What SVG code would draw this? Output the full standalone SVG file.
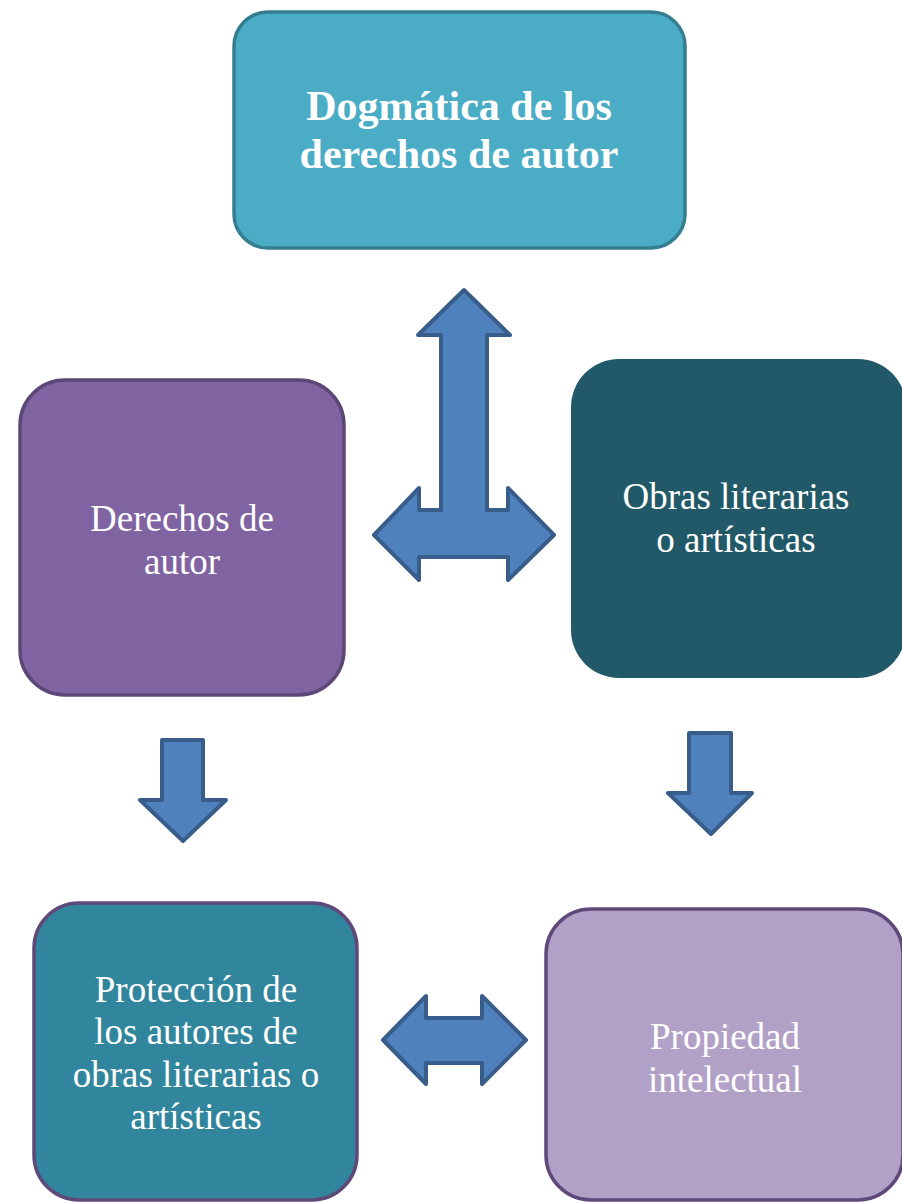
<svg xmlns="http://www.w3.org/2000/svg" width="902" height="1202" viewBox="0 0 902 1202">
<style>
.box{stroke-width:3.5}
.t{font-family:"Liberation Serif","Times New Roman",serif;fill:#ffffff;text-anchor:middle;font-size:37px}
.tb{font-weight:bold;font-size:42px}
.arr{fill:#4f81bd;stroke:#385d8a;stroke-width:4;stroke-linejoin:round}
</style>
<rect width="902" height="1202" fill="#ffffff"/>
<g id="connectors">
<polygon class="arr" points="464,290 510,335 487,335 487,510 508,510 508,488 554,535 508,580 508,557 419,557 419,580 374,535 419,488 419,510 441,510 441,335 418,335"/>
<polygon class="arr" points="162,740 203,740 203,800 226,800 183,841 140,800 162,800"/>
<polygon class="arr" points="689,733 731,733 731,793 752,793 711,834 668,793 689,793"/>
<polygon class="arr" points="383,1040 426,996 426,1018 482,1018 482,996 526,1040 482,1084 482,1063 426,1063 426,1084"/>
</g>
<g id="node-dogmatica">
<rect class="box" x="234" y="12" width="451" height="236" rx="34" fill="#4bacc6" stroke="#357d91"/>
<text class="t tb" x="459" y="120">Dogmática de los</text>
<text class="t tb" x="459" y="168">derechos de autor</text>
</g>
<g id="node-derechos">
<rect class="box" x="20" y="380" width="324" height="315" rx="45" fill="#8064a2" stroke="#5c4776"/>
<text class="t" x="182" y="531">Derechos de</text>
<text class="t" x="182" y="574">autor</text>
</g>
<g id="node-obras">
<rect x="571" y="359" width="335" height="319" rx="48" fill="#215968"/>
<text class="t" x="736" y="509">Obras literarias</text>
<text class="t" x="736" y="552">o artísticas</text>
</g>
<g id="node-proteccion">
<rect class="box" x="34" y="903" width="323" height="297" rx="45" fill="#31859c" stroke="#5f497a"/>
<text class="t" x="196" y="1002">Protección de</text>
<text class="t" x="196" y="1044">los autores de</text>
<text class="t" x="196" y="1087">obras literarias o</text>
<text class="t" x="196" y="1129">artísticas</text>
</g>
<g id="node-propiedad">
<rect class="box" x="546" y="909" width="357" height="291" rx="45" fill="#b2a1c7" stroke="#5f497a"/>
<text class="t" x="725" y="1049">Propiedad</text>
<text class="t" x="725" y="1092">intelectual</text>
</g>
</svg>
